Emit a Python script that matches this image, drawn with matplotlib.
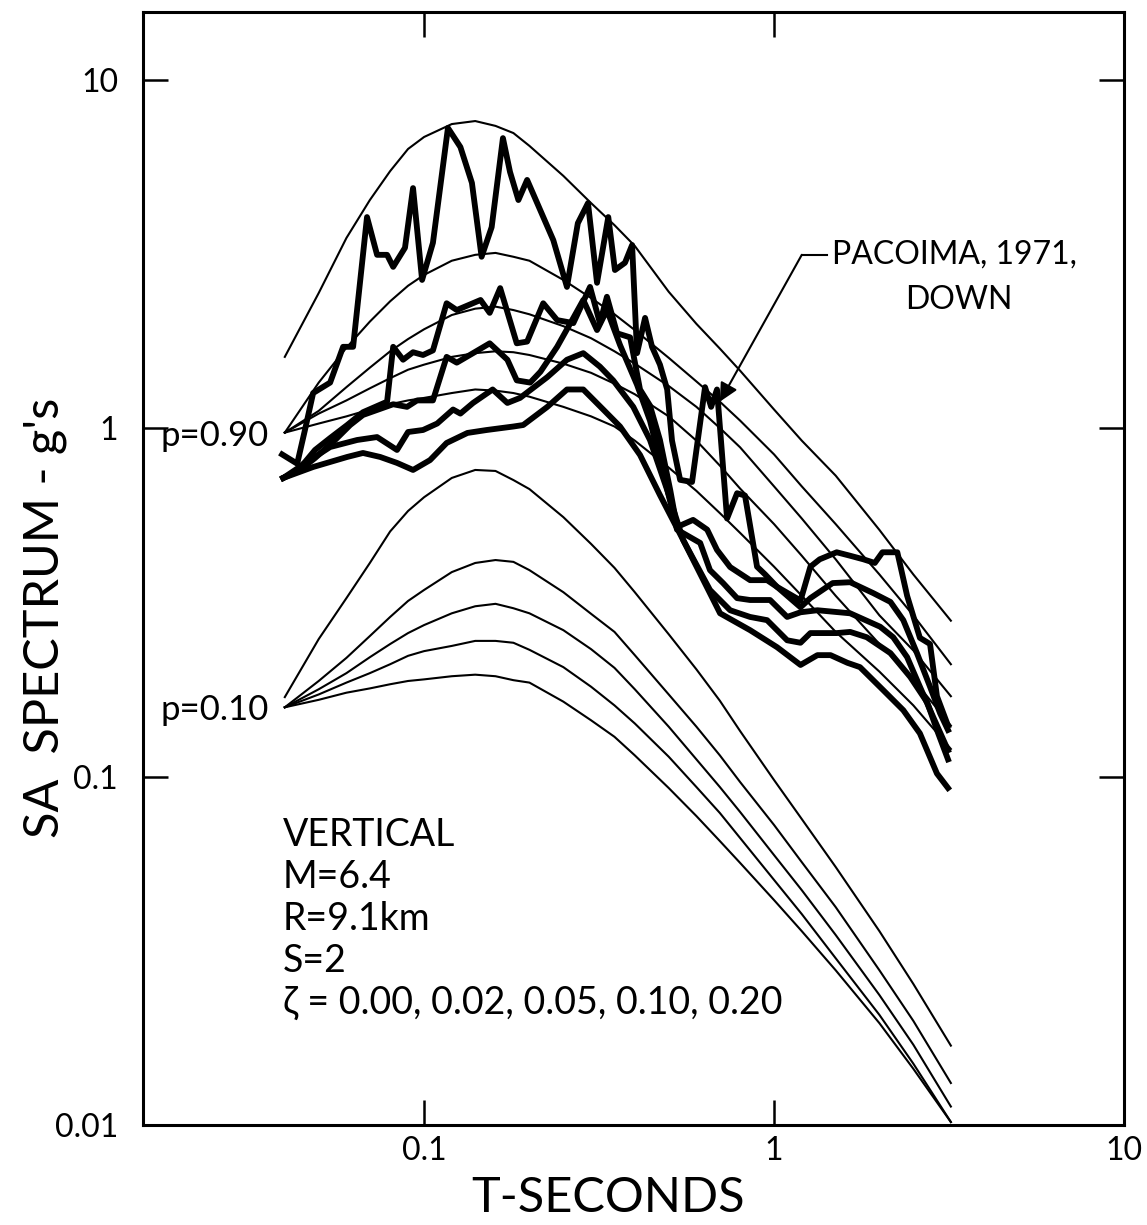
import matplotlib.pyplot as plt

# periods (s) of the smooth predicted spectra
t_pred = [0.04, 0.05, 0.06, 0.07, 0.08, 0.09, 0.10, 0.12, 0.14, 0.16, 0.18, 0.20, 0.25,
          0.30, 0.35, 0.40, 0.50, 0.60, 0.70, 0.80, 1.0, 1.2, 1.5, 2.0, 2.5, 3.2]

# p = 0.90 spectra, damping 0.00, 0.02, 0.05, 0.10, 0.20
sa_p90 = [
    [1.60, 2.44, 3.51, 4.51, 5.46, 6.32, 6.84, 7.45, 7.60, 7.36, 7.02, 6.45, 5.29,
     4.42, 3.82, 3.33, 2.46, 1.99, 1.69, 1.46, 1.13, 0.92, 0.73, 0.51, 0.38, 0.28],
    [0.97, 1.35, 1.70, 2.02, 2.31, 2.56, 2.75, 3.02, 3.14, 3.18, 3.10, 3.02, 2.66,
     2.36, 2.12, 1.91, 1.59, 1.36, 1.19, 1.05, 0.84, 0.68, 0.53, 0.38, 0.29, 0.21],
    [0.97, 1.12, 1.31, 1.49, 1.66, 1.80, 1.92, 2.11, 2.20, 2.23, 2.18, 2.12, 1.96,
     1.81, 1.66, 1.53, 1.32, 1.15, 1.00, 0.88, 0.68, 0.55, 0.42, 0.29, 0.23, 0.17],
    [0.97, 1.10, 1.20, 1.30, 1.39, 1.47, 1.52, 1.60, 1.64, 1.66, 1.65, 1.62, 1.53,
     1.44, 1.34, 1.25, 1.08, 0.92, 0.78, 0.67, 0.53, 0.43, 0.33, 0.24, 0.19, 0.14],
    [0.97, 1.03, 1.08, 1.13, 1.17, 1.20, 1.22, 1.26, 1.29, 1.28, 1.26, 1.23, 1.15,
     1.08, 1.01, 0.92, 0.77, 0.66, 0.57, 0.50, 0.40, 0.33, 0.26, 0.20, 0.16, 0.12],
]

# p = 0.10 spectra, damping 0.00, 0.02, 0.05, 0.10, 0.20
sa_p10 = [
    [0.169, 0.248, 0.325, 0.410, 0.505, 0.578, 0.633, 0.719, 0.758, 0.753, 0.709, 0.668, 0.555,
     0.465, 0.397, 0.338, 0.256, 0.203, 0.165, 0.135, 0.0977, 0.0755, 0.0550, 0.0360, 0.0254, 0.0169],
    [0.158, 0.188, 0.219, 0.253, 0.287, 0.319, 0.343, 0.386, 0.410, 0.418, 0.413, 0.391, 0.338,
     0.293, 0.260, 0.223, 0.172, 0.139, 0.115, 0.0964, 0.0726, 0.0568, 0.0422, 0.0278, 0.0199, 0.0132],
    [0.158, 0.178, 0.198, 0.220, 0.240, 0.258, 0.272, 0.294, 0.308, 0.313, 0.304, 0.294, 0.263,
     0.232, 0.205, 0.178, 0.139, 0.112, 0.0933, 0.0791, 0.0595, 0.0472, 0.0351, 0.0236, 0.0170, 0.0113],
    [0.158, 0.172, 0.186, 0.198, 0.210, 0.222, 0.229, 0.237, 0.245, 0.245, 0.242, 0.231, 0.206,
     0.181, 0.160, 0.142, 0.114, 0.0933, 0.0786, 0.0666, 0.0505, 0.0403, 0.0301, 0.0207, 0.0150, 0.0102],
    [0.158, 0.166, 0.174, 0.179, 0.184, 0.188, 0.190, 0.194, 0.196, 0.194, 0.189, 0.186, 0.164,
     0.145, 0.130, 0.115, 0.0927, 0.0770, 0.0653, 0.0565, 0.0442, 0.0360, 0.0278, 0.0196, 0.0145, 0.0102],
]

# Pacoima 1971, down component: period (s) and SA (g) for each damping
t_pac_000 = [0.0393, 0.0434, 0.0457, 0.0482, 0.0539, 0.0587, 0.0627, 0.0687, 0.0734, 0.0784, 0.0816,
             0.0882, 0.0930, 0.0987, 0.106, 0.117, 0.127, 0.137, 0.146, 0.156, 0.168, 0.176, 0.186,
             0.197, 0.234, 0.256, 0.275, 0.294, 0.312, 0.336, 0.351, 0.375, 0.393, 0.406, 0.428,
             0.448, 0.472, 0.495, 0.511, 0.539, 0.583, 0.635, 0.661, 0.687, 0.734, 0.784, 0.826,
             0.894, 0.943, 1.02, 1.19, 1.27, 1.35, 1.51, 1.65, 1.80, 1.94, 2.04, 2.25, 2.40, 2.61,
             2.79, 2.92, 3.14]
sa_pac_000 = [0.84, 0.79, 0.99, 1.26, 1.35, 1.71, 1.71, 4.03, 3.14, 3.14, 2.90, 3.29, 4.88, 2.66,
              3.40, 7.26, 6.40, 5.05, 3.10, 3.77, 6.79, 5.43, 4.51, 5.15, 3.46, 2.54, 3.87, 4.42,
              2.61, 4.03, 2.84, 2.98, 3.35, 1.64, 2.07, 1.71, 1.52, 1.29, 0.92, 0.71, 0.70, 1.31,
              1.15, 1.29, 0.55, 0.65, 0.64, 0.40, 0.38, 0.35, 0.32, 0.40, 0.42, 0.44, 0.43, 0.42,
              0.41, 0.44, 0.44, 0.33, 0.25, 0.24, 0.17, 0.14]

t_pac_002 = [0.0396, 0.0428, 0.0457, 0.0488, 0.0539, 0.0603, 0.0669, 0.0784, 0.0816, 0.0871, 0.0930,
             0.0993, 0.106, 0.116, 0.124, 0.145, 0.154, 0.165, 0.184, 0.197, 0.219, 0.240, 0.267,
             0.298, 0.318, 0.333, 0.356, 0.388, 0.414, 0.442, 0.472, 0.505, 0.528, 0.587, 0.644,
             0.687, 0.749, 0.854, 0.955, 1.02, 1.19, 1.27, 1.47, 1.65, 1.92, 2.15, 2.34, 2.56, 2.79,
             2.98, 3.14]
sa_pac_002 = [0.719, 0.748, 0.799, 0.865, 0.936, 1.02, 1.11, 1.19, 1.71, 1.57, 1.65, 1.62, 1.67,
              2.28, 2.18, 2.33, 2.14, 2.52, 1.75, 1.77, 2.28, 2.04, 2.00, 2.54, 2.00, 2.38, 1.87,
              1.82, 1.29, 1.16, 0.924, 0.664, 0.520, 0.545, 0.511, 0.447, 0.399, 0.366, 0.366,
              0.350, 0.306, 0.325, 0.359, 0.361, 0.336, 0.317, 0.281, 0.226, 0.181, 0.152, 0.136]

t_pac_005 = [0.0396, 0.0442, 0.0488, 0.0557, 0.0615, 0.0669, 0.0816, 0.0894, 0.0955, 0.106, 0.116,
             0.124, 0.138, 0.154, 0.173, 0.184, 0.201, 0.215, 0.240, 0.267, 0.285, 0.312, 0.333,
             0.363, 0.406, 0.442, 0.488, 0.528, 0.615, 0.656, 0.715, 0.784, 0.854, 0.974, 1.09,
             1.19, 1.33, 1.65, 2.01, 2.19, 2.40, 2.61, 2.85, 3.14]
sa_pac_005 = [0.719, 0.758, 0.820, 0.924, 1.02, 1.09, 1.17, 1.15, 1.20, 1.20, 1.60, 1.54, 1.64,
              1.75, 1.57, 1.37, 1.35, 1.45, 1.71, 2.07, 2.33, 1.91, 2.18, 1.73, 1.33, 1.05, 0.709,
              0.511, 0.468, 0.391, 0.359, 0.325, 0.321, 0.321, 0.287, 0.296, 0.300, 0.294, 0.269,
              0.251, 0.220, 0.181, 0.148, 0.119]

t_pac_010 = [0.0396, 0.0472, 0.0539, 0.0644, 0.0734, 0.0837, 0.0900, 0.0993, 0.109, 0.121, 0.127,
             0.138, 0.157, 0.173, 0.188, 0.225, 0.256, 0.285, 0.318, 0.347, 0.396, 0.442, 0.495,
             0.550, 0.656, 0.749, 0.854, 0.955, 1.09, 1.19, 1.27, 1.51, 1.65, 1.84, 2.15, 2.45,
             2.74, 2.92, 3.14]
sa_pac_010 = [0.719, 0.809, 0.882, 0.924, 0.942, 0.865, 0.974, 0.987, 1.03, 1.13, 1.10, 1.18, 1.29,
              1.18, 1.22, 1.40, 1.57, 1.64, 1.50, 1.37, 1.15, 0.924, 0.664, 0.477, 0.343, 0.300,
              0.287, 0.281, 0.246, 0.242, 0.258, 0.258, 0.260, 0.251, 0.226, 0.193, 0.163, 0.136,
              0.112]

t_pac_020 = [0.0396, 0.0482, 0.0603, 0.0669, 0.0749, 0.0837, 0.0930, 0.104, 0.116, 0.133, 0.151,
             0.180, 0.192, 0.225, 0.256, 0.285, 0.325, 0.363, 0.414, 0.472, 0.550, 0.701, 0.854,
             1.02, 1.19, 1.33, 1.45, 1.62, 1.76, 2.05, 2.34, 2.61, 2.92, 3.14]
sa_pac_020 = [0.719, 0.773, 0.826, 0.848, 0.826, 0.794, 0.758, 0.809, 0.906, 0.968, 0.987, 1.01,
              1.02, 1.15, 1.29, 1.29, 1.13, 1.01, 0.837, 0.642, 0.477, 0.294, 0.263, 0.235, 0.209,
              0.223, 0.223, 0.212, 0.206, 0.177, 0.155, 0.133, 0.102, 0.0927]

pacoima = [(t_pac_000, sa_pac_000), (t_pac_002, sa_pac_002), (t_pac_005, sa_pac_005),
           (t_pac_010, sa_pac_010), (t_pac_020, sa_pac_020)]

plt.rcParams['font.family'] = ['Lato', 'DejaVu Sans']

fig = plt.figure(figsize=(11.47, 12.25), dpi=100)
ax = fig.add_axes([0.1247, 0.0816, 0.8553, 0.9086])
ax.set_xscale('log')
ax.set_yscale('log')

for sa in sa_p90 + sa_p10:
    ax.plot(t_pred, sa, color='black', lw=1.5)

for t, sa in pacoima:
    ax.plot(t, sa, color='black', lw=4.2, solid_joinstyle='round')

ax.set_xlim(0.01574, 10)
ax.set_ylim(0.01, 15.62)
ax.minorticks_off()
ax.set_xticks([0.1, 1, 10])
ax.set_xticklabels(['0.1', '1', '10'])
ax.set_yticks([0.01, 0.1, 1, 10])
ax.set_yticklabels(['0.01', '0.1', '1', '10'])
ax.tick_params(which='major', direction='in', length=18, width=1.8,
               top=True, right=True, labelsize=23)
ax.tick_params(axis='x', pad=8)
ax.tick_params(axis='y', pad=18)
for sp in ax.spines.values():
    sp.set_linewidth(2.2)

ax.set_xlabel('T-SECONDS', fontsize=35)
ax.set_ylabel("SA  SPECTRUM - g's", fontsize=35)
ax.xaxis.set_label_coords(0.474, -0.046)
ax.yaxis.set_label_coords(-0.077, 0.456)

# probability level labels at the left ends of the predicted curves
ax.text(0.036, 0.95, 'p=0.90', fontsize=25, ha='right', va='center')
ax.text(0.036, 0.155, 'p=0.10', fontsize=25, ha='right', va='center')

# record label with leader line and arrow
ax.text(1.46, 3.14, 'PACOIMA, 1971,', fontsize=23, ha='left', va='center')
ax.text(3.38, 2.33, 'DOWN', fontsize=23, ha='center', va='center')
ax.plot([1.42, 1.20], [3.14, 3.14], color='black', lw=1.5)
ax.annotate('', xy=(0.70, 1.19), xytext=(1.20, 3.14),
            arrowprops=dict(arrowstyle='-|>', color='black', lw=1.5,
                            mutation_scale=28, shrinkA=0, shrinkB=0))

# event parameters
params = ['VERTICAL', 'M=6.4', 'R=9.1km', 'S=2',
          'ζ = 0.00, 0.02, 0.05, 0.10, 0.20']
for i, line in enumerate(params):
    ax.text(0.1427, 0.2606 - 0.0377 * i, line, transform=ax.transAxes,
            fontsize=27, ha='left', va='center')

fig.savefig('out.png', dpi=100)
